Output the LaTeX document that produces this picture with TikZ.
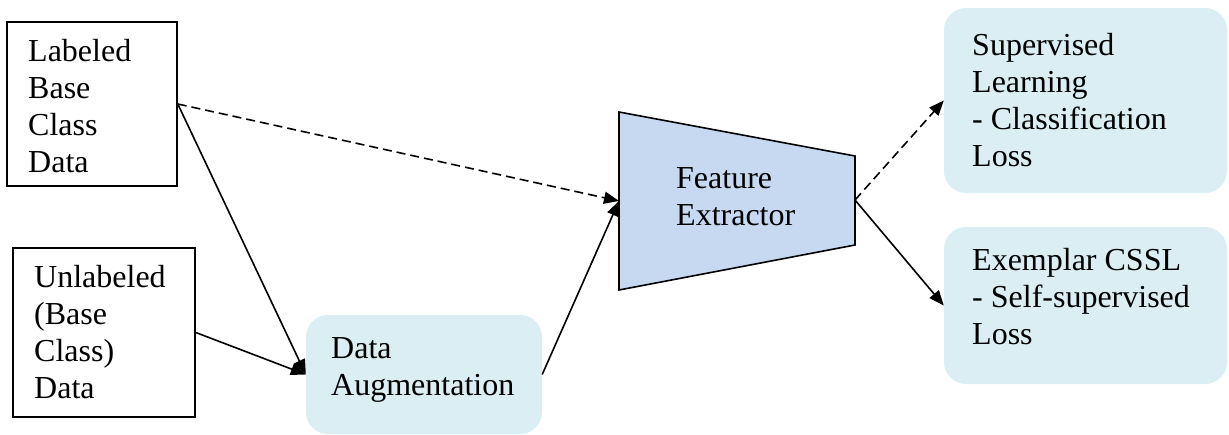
\documentclass[tikz,border=0pt]{standalone}
\usepackage{fontspec}
\setmainfont{Liberation Serif}
\newfontfamily\timesfont{Liberation Serif}
\usetikzlibrary{arrows.meta,fit}
\definecolor{boxblue}{HTML}{DAEEF3}
\definecolor{trapblue}{HTML}{C6D9F1}
\begin{document}
\begin{tikzpicture}[x=1pt,y=-1pt,
  plainbox/.style={draw, line width=1.6pt, inner sep=0pt},
  softbox/.style={fill=boxblue, draw=none, rounded corners=22pt, inner sep=0pt},
  txt/.style={align=left, inner sep=0pt, anchor=north west, font=\timesfont\fontsize{32}{37}\selectfont},
  conn/.style={line width=1.6pt, -{Triangle[length=15pt,width=12pt]}},
  dconn/.style={conn, dash pattern=on 9pt off 5pt}
]
\path[use as bounding box] (0,0) rectangle (1229,434);
% boxes
\node[plainbox, fit={(7,22) (177,186)}] (lab) {};
\node[plainbox, fit={(13,248) (195,417)}] (unl) {};
\node[softbox, fit={(306,315) (542,434)}] (aug) {};
\node[softbox, fit={(944,8) (1227,193)}] (sup) {};
\node[softbox, fit={(944,227) (1227,384)}] (ex) {};
% feature extractor trapezoid
\draw[fill=trapblue, line width=1.6pt] (619,112) -- (855,156) -- (855,245) -- (619,290) -- cycle;
\coordinate (fe-w) at (619,201);
\coordinate (fe-e) at (855,200);
% texts
\node[txt] (labt) at (28,39) {Labeled\\Base\\Class\\Data};
\node[txt] (unlt) at (34,265) {Unlabeled\\(Base\\Class)\\Data};
\node[txt] (augt) at (331,337) {Data\\Augmentation};
\node[txt] (fet) at (676,167) {Feature\\Extractor};
\node[txt] (supt) at (972,33) {Supervised\\Learning\\- Classification\\Loss};
\node[txt] (ext) at (972,248) {Exemplar CSSL\\- Self-supervised\\Loss};
% connectors
\draw[dconn] (lab.east) -- (fe-w);
\draw[conn] (lab.east) -- (aug.west);
\draw[conn] (unl.east) -- (aug.west);
\draw[conn] (aug.east) -- (fe-w);
\draw[dconn] (fe-e) -- (sup.west);
\draw[conn] (fe-e) -- (ex.west);
\end{tikzpicture}
\end{document}
